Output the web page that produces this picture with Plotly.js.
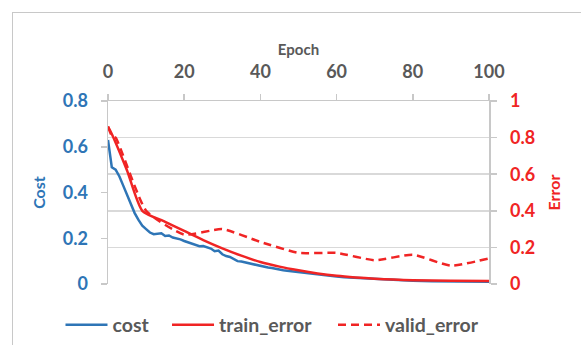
<!DOCTYPE html>
<html>
<head>
<meta charset="utf-8">
<script src="https://cdn.plot.ly/plotly-3.0.1.min.js"></script>
<style>
html,body{margin:0;padding:0;background:#fff;}
#frame{position:absolute;left:12px;top:12px;width:600px;height:400px;border-left:1px solid #c8c8c8;border-top:1px solid #c8c8c8;}
#chart{position:absolute;left:0;top:0;width:581px;height:345px;}
</style>
</head>
<body>
<div id="frame"></div>
<div id="chart"></div>
<script>
// cost per epoch (left axis)
const costEpochs = [0,1,2,3,4,5,6,7,8,9,10,11,12,13,14,15,16,17,18,19,20,21,22,23,24,25,26,27,28,29,30,31,32,33,34,35,36,37,38,39,40,41,42,43,44,45,46,47,48,49,50,52,54,56,58,60,62,64,66,68,70,72,74,76,78,80,85,90,95,100];
const costValues = [0.63,0.51,0.50,0.47,0.43,0.39,0.35,0.31,0.28,0.255,0.24,0.225,0.218,0.220,0.222,0.210,0.212,0.203,0.200,0.195,0.188,0.182,0.175,0.168,0.165,0.166,0.162,0.155,0.143,0.146,0.130,0.122,0.118,0.108,0.100,0.098,0.094,0.090,0.086,0.082,0.078,0.076,0.072,0.070,0.066,0.064,0.060,0.058,0.056,0.054,0.050,0.046,0.042,0.039,0.036,0.033,0.030,0.028,0.026,0.024,0.022,0.020,0.018,0.016,0.015,0.014,0.012,0.011,0.010,0.010];

// training error (right axis)
const trainEpochs = [0,1,5,9,15,20,25,30,35,40,45,50,55,60,65,70,75,80,90,100];
const trainValues = [0.86,0.82,0.62,0.40,0.34,0.29,0.24,0.195,0.155,0.12,0.095,0.075,0.058,0.045,0.036,0.029,0.024,0.021,0.018,0.017];

// validation error (right axis)
const validEpochs = [0,1,2,10,20,30,40,50,60,70,80,90,100];
const validValues = [0.86,0.81,0.80,0.40,0.27,0.30,0.23,0.17,0.17,0.13,0.16,0.10,0.14];

const xTicks = [0,20,40,60,80,100];
const costTicks = [0,0.2,0.4,0.6,0.8];
const errTicks = [0,0.2,0.4,0.6,0.8,1];

const BLUE = '#2e75b6';
const RED = '#f02424';
const GRAY = '#595959';
const LINE = '#c8c8c8';
const FONT = 'Lato, "Open Sans", sans-serif';

const traces = [
  {x: costEpochs, y: costValues, name: 'cost', type: 'scatter', mode: 'lines',
   line: {color: BLUE, width: 2.5}, yaxis: 'y', legend: 'legend'},
  {x: trainEpochs, y: trainValues, name: 'train_error', type: 'scatter', mode: 'lines',
   line: {color: RED, width: 2.5, shape: 'spline', smoothing: 0.6}, yaxis: 'y2', legend: 'legend2'},
  {x: validEpochs, y: validValues, name: 'valid_error', type: 'scatter', mode: 'lines',
   line: {color: RED, width: 2.5, dash: '8px,5px', shape: 'spline', smoothing: 0.5}, yaxis: 'y2', legend: 'legend3'}
];

function legendAt(x) {
  return {orientation: 'h', xref: 'paper', yref: 'paper', x: x, xanchor: 'left',
          y: -0.224, yanchor: 'middle', bgcolor: 'rgba(0,0,0,0)',
          font: {family: FONT, size: 19.5, color: GRAY, weight: 'bold'}, itemwidth: 42};
}

const layout = {
  width: 581, height: 345,
  margin: {l: 108, r: 92, t: 101, b: 61, autoexpand: false},
  paper_bgcolor: 'rgba(0,0,0,0)', plot_bgcolor: 'rgba(0,0,0,0)',
  font: {family: FONT, color: GRAY},
  showlegend: true,
  legend: legendAt(-0.1247),
  legend2: legendAt(0.1549),
  legend3: legendAt(0.5906),
  xaxis: {side: 'top', range: [0, 100], tickvals: xTicks, ticktext: xTicks.map(String),
          showgrid: false, zeroline: false, showline: true, linecolor: LINE, linewidth: 1.5,
          ticks: 'outside', ticklen: 6, tickcolor: LINE, tickwidth: 1.5, ticklabelstandoff: 8,
          tickfont: {family: FONT, size: 18, color: GRAY, weight: 'bold'},
          title: {text: 'Epoch', font: {family: FONT, size: 15, color: GRAY, weight: 'bold'}, standoff: 1}},
  yaxis: {range: [0, 0.8], tickvals: costTicks, ticktext: costTicks.map(v => String(v)),
          showgrid: false, zeroline: false, showline: true, linecolor: LINE, linewidth: 1.5,
          ticks: 'outside', ticklen: 6, tickcolor: LINE, tickwidth: 1.5, ticklabelstandoff: 9,
          tickfont: {family: FONT, size: 18, color: BLUE, weight: 'bold'},
          title: {text: 'Cost', font: {family: FONT, size: 16, color: BLUE, weight: 'bold'}, standoff: 13}},
  yaxis2: {overlaying: 'y', side: 'right', range: [0, 1], tickvals: errTicks, ticktext: errTicks.map(v => String(v)),
           showgrid: true, gridcolor: '#d9d9d9', gridwidth: 1.5, zeroline: false,
           showline: true, linecolor: LINE, linewidth: 1.5,
           ticks: 'outside', ticklen: 6, tickcolor: LINE, tickwidth: 1.5, ticklabelstandoff: 10,
           tickfont: {family: FONT, size: 18, color: RED, weight: 'bold'},
           title: {text: 'Error', font: {family: FONT, size: 16, color: RED, weight: 'bold'}, standoff: 14}}
};

Plotly.newPlot('chart', traces, layout, {displayModeBar: false, staticPlot: true});
</script>
</body>
</html>
